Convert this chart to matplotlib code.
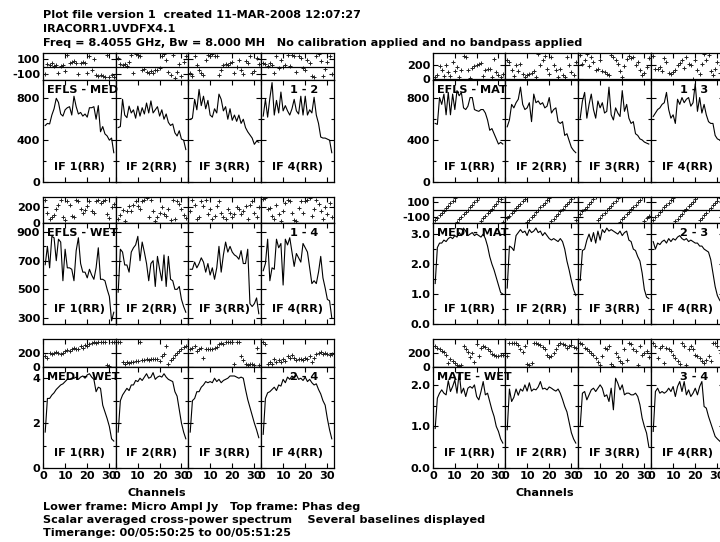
import numpy as np
import matplotlib.pyplot as plt
from matplotlib.ticker import FixedLocator, FormatStrFormatter

plt.rcParams['font.family'] = ['DejaVu Sans']
plt.rcParams['font.weight'] = 'bold'
plt.rcParams['axes.unicode_minus'] = False

# channel numbers (32 per IF)
channels = np.arange(1, 33)
if_labels = ['IF 1(RR)', 'IF 2(RR)', 'IF 3(RR)', 'IF 4(RR)']

# amplitude spectra, one list per IF
amp_efls_med = [
    [540, 560, 555, 640, 700, 800, 760, 650, 630, 690, 710, 720, 640, 820, 720, 650, 665, 630, 650, 620, 710, 710, 720, 600, 730, 480, 530, 460, 440, 400, 420, 280],
    [520, 530, 790, 640, 615, 725, 660, 690, 610, 725, 630, 710, 650, 755, 660, 775, 660, 690, 720, 630, 690, 600, 650, 570, 540, 555, 470, 440, 490, 410, 400, 310],
    [600, 610, 790, 690, 885, 730, 820, 700, 780, 640, 620, 700, 660, 840, 790, 680, 720, 600, 700, 590, 640, 580, 640, 560, 600, 520, 480, 450, 420, 360, 390, 380],
    [630, 790, 620, 800, 950, 640, 780, 660, 860, 680, 730, 680, 640, 700, 790, 680, 650, 820, 640, 820, 640, 690, 660, 810, 640, 560, 430, 420, 420, 410, 400, 280],
]
amp_efls_mat = [
    [557, 548, 803, 738, 836, 639, 852, 639, 836, 689, 869, 820, 852, 705, 689, 721, 803, 803, 689, 679, 672, 689, 689, 656, 590, 492, 508, 459, 410, 361, 377, 361],
    [525, 590, 738, 705, 754, 787, 902, 738, 689, 705, 754, 574, 836, 754, 771, 738, 754, 705, 721, 803, 656, 689, 705, 574, 557, 574, 443, 459, 393, 330, 300, 279],
    [607, 770, 852, 607, 738, 836, 689, 607, 770, 705, 754, 656, 672, 902, 639, 590, 705, 656, 623, 869, 672, 738, 607, 557, 574, 459, 443, 410, 400, 380, 370, 361],
    [623, 656, 689, 705, 738, 754, 852, 689, 607, 639, 557, 787, 738, 803, 754, 787, 803, 721, 754, 934, 672, 803, 656, 738, 639, 574, 557, 557, 443, 410, 400, 390],
]
amp_efls_wet = [
    [672, 800, 650, 870, 860, 700, 850, 830, 560, 780, 650, 650, 640, 560, 770, 860, 680, 620, 620, 580, 640, 600, 570, 650, 790, 570, 570, 560, 500, 450, 280, 340],
    [480, 780, 760, 670, 670, 620, 760, 790, 810, 870, 700, 830, 760, 680, 560, 680, 700, 520, 730, 640, 560, 740, 520, 730, 570, 560, 500, 500, 520, 430, 380, 340],
    [640, 640, 690, 650, 680, 720, 690, 620, 680, 600, 650, 570, 650, 800, 620, 740, 830, 760, 800, 760, 740, 730, 710, 770, 680, 680, 780, 400, 380, 400, 440, 330],
    [630, 680, 850, 560, 650, 640, 850, 790, 820, 530, 850, 810, 860, 760, 660, 750, 720, 690, 820, 790, 760, 650, 540, 560, 540, 620, 730, 580, 510, 430, 420, 300],
]
amp_medi_mat = [
    [1.35, 2.55, 2.7, 2.7, 2.8, 2.75, 2.85, 2.9, 2.85, 2.95, 2.9, 3.05, 2.95, 3.2, 3.1, 2.95, 3.0, 3.05, 2.95, 3.0, 2.95, 2.9, 3.0, 2.85, 2.6, 2.25, 2.0, 1.8, 1.55, 1.3, 1.05, 1.0],
    [1.2, 2.6, 2.55, 2.45, 2.95, 3.05, 3.15, 3.05, 3.1, 2.95, 3.15, 3.05, 3.1, 3.2, 3.05, 3.1, 2.95, 3.05, 2.95, 2.85, 2.8, 2.85, 2.8, 2.75, 2.85, 2.75, 2.5, 2.1, 1.8, 1.45, 1.15, 0.95],
    [1.45, 2.45, 2.5, 2.8, 3.0, 2.75, 3.05, 2.7, 3.1, 2.8, 3.15, 3.05, 3.2, 3.1, 3.15, 3.1, 3.05, 3.0, 3.1, 2.95, 3.05, 3.1, 2.8, 2.75, 2.5, 2.45, 2.25, 2.1, 1.7, 1.15, 0.9, 0.85],
    [2.75, 2.5, 2.7, 2.65, 2.75, 2.8, 2.7, 2.85, 2.75, 2.85, 2.8, 2.9, 2.95, 2.85, 2.8, 2.85, 2.75, 2.8, 2.75, 2.7, 2.7, 2.6, 2.6, 2.5, 2.45, 2.4, 2.15, 1.7, 1.25, 0.95, 0.8, 0.7],
]
amp_medi_wet = [
    [1.6, 3.1, 3.1, 3.25, 3.35, 3.5, 3.6, 3.7, 3.75, 3.85, 3.95, 3.95, 4.0, 4.0, 4.05, 3.95, 4.05, 4.1, 4.0, 4.15, 4.2, 4.05, 3.95, 3.4, 3.6, 3.55, 2.8, 2.5, 2.2, 1.85, 1.3, 1.2],
    [1.6, 3.0, 3.25, 3.4, 3.55, 3.45, 3.7, 3.7, 3.9, 3.85, 4.0, 3.9, 4.05, 4.2, 4.0, 4.05, 4.25, 3.95, 4.05, 4.1, 4.05, 4.2, 4.05, 3.95, 3.9, 3.85, 3.4, 3.2, 2.6, 2.0, 1.6, 1.3],
    [1.6, 3.0, 3.1, 3.4, 3.4, 3.6, 3.7, 3.85, 3.8, 3.85, 3.8, 4.0, 3.85, 3.95, 3.8, 3.9, 3.95, 4.0, 4.1, 4.1, 4.1, 4.05, 4.0, 4.05, 4.0, 3.5, 3.05, 2.7, 2.35, 2.0, 1.7, 1.35],
    [1.5, 3.1, 3.35, 3.4, 3.5, 3.6, 3.45, 3.7, 3.65, 3.95, 3.8, 4.05, 3.95, 4.1, 4.0, 4.15, 3.95, 4.0, 3.9, 4.05, 3.85, 3.95, 3.8, 3.7, 3.75, 3.5, 3.3, 3.0, 2.8, 2.2, 1.7, 1.3],
]
amp_mate_wet = [
    [0.95, 1.68, 1.8, 1.88, 1.8, 1.76, 2.1, 1.84, 1.96, 2.12, 1.8, 2.3, 1.8, 1.92, 1.72, 1.92, 1.96, 1.92, 2.0, 1.72, 1.64, 1.84, 2.08, 1.76, 1.8, 1.6, 1.4, 1.24, 1.0, 0.88, 0.7, 0.6],
    [0.92, 1.9, 1.6, 1.7, 1.9, 1.75, 1.9, 1.85, 2.0, 1.85, 2.05, 1.85, 1.9, 1.88, 1.95, 2.08, 1.9, 1.92, 1.88, 1.95, 1.92, 1.88, 1.85, 1.9, 1.8, 1.65, 1.48, 1.35, 1.1, 0.85, 0.7, 0.6],
    [1.0, 1.8, 1.84, 1.64, 1.76, 1.88, 1.92, 1.84, 1.92, 2.0, 1.92, 1.72, 1.76, 1.6, 1.92, 1.4, 2.16, 2.04, 1.88, 2.0, 1.76, 1.8, 1.8, 1.76, 1.76, 1.8, 1.72, 1.52, 1.2, 1.0, 0.84, 0.52],
    [0.88, 1.84, 1.92, 1.8, 1.84, 1.8, 1.84, 1.92, 1.84, 1.96, 1.72, 1.96, 2.08, 1.84, 2.08, 1.76, 1.88, 1.72, 1.8, 1.92, 1.76, 1.96, 2.08, 1.48, 1.44, 1.24, 1.08, 0.92, 0.76, 0.7, 0.65, 0.6],
]

# phases in degrees, one list per IF
phs_efls_med = [
    [-105, 30, 24, 48, 10, 24, -95, 14, 24, -60, 167, 48, 57, 71, 48, -105, 48, 60, 48, -95, 143, -48, 105, -119, -133, -119, -133, -143, 167, -143, -119, -150],
    [120, 40, 24, 40, 10, 57, 167, -95, 178, 167, 143, -48, -38, -71, -95, -57, -95, -48, -48, -24, 143, 175, 95, -71, -119, 167, -160, -80, 30, -130, 60, 150],
    [-95, -133, 143, 24, -48, -95, -119, 95, 167, 143, 178, 150, 143, -119, -48, 24, 38, 24, 48, 57, -95, 0, 95, -48, -105, 71, 48, 143, -95, -60, 120, 30],
    [48, 38, 10, 48, 24, -95, 143, -24, 95, 0, 24, 167, 10, 167, 150, -71, 143, 120, -24, -48, 95, 48, -133, -143, 143, 178, 71, -133, -40, 60, 150, -110],
]
phs_efls_mat = [
    [30, 57, 186, 129, 43, 200, 105, 43, 248, 119, 176, 33, 129, 329, 319, 138, 24, 167, 186, 200, 214, 233, 43, 129, 152, 152, 33, 281, 105, 57, 33, 80],
    [271, 248, 129, 43, 200, 119, 224, 71, 33, 57, 81, 90, 119, 33, 358, 200, 271, 329, 152, 81, 319, 200, 129, 33, 152, 57, 33, 310, 200, 100, 60, 240],
    [343, 224, 271, 357, 186, 310, 248, 129, 152, 271, 119, 105, 81, 57, 343, 310, 271, 224, 119, 33, 186, 281, 329, 295, 319, 200, 248, 129, 57, 90, 180, 300],
    [329, 152, 152, 176, 119, 295, 248, 90, 71, 105, 138, 200, 233, 271, 167, 310, 224, 200, 10, 271, 129, 71, 224, 358, 271, 343, 119, 57, 150, 250, 90, 200],
]
phs_efls_wet = [
    [300, 133, 50, 71, 104, 175, 237, 300, 71, 37, 279, 237, 92, 71, 300, 279, 175, 133, 162, 217, 279, 154, 133, 279, 300, 258, 279, 300, 120, 60, 200, 250],
    [50, 104, 162, 21, 154, 217, 154, 237, 279, 217, 175, 279, 300, 321, 71, 300, 154, 29, 71, 133, 204, 117, 92, 175, 37, 300, 50, 287, 250, 180, 100, 60],
    [154, 300, 237, 50, 71, 279, 217, 300, 117, 175, 50, 92, 217, 279, 133, 71, 50, 175, 133, 71, 117, 204, 175, 117, 154, 217, 50, 237, 280, 130, 70, 200],
    [312, 325, 175, 196, 92, 50, 237, 117, 29, 154, 258, 300, 279, 133, 37, 29, 196, 287, 133, 279, 300, 321, 92, 175, 300, 246, 154, 50, 200, 110, 260, 80],
]
phs_medi_mat = [
    [-150, -116, -82, -48, -14, 20, 54, 88, 122, 156, -170, -136, -102, -68, -34, 0, 34, 68, 102, 136, 170, -156, -122, -88, -54, -20, 14, 48, 82, 116, 150, -176],
    [-120, -86, -52, -18, 16, 50, 84, 118, 152, -174, -140, -106, -72, -38, -4, 30, 64, 98, 132, 166, -160, -126, -92, -58, -24, 10, 44, 78, 112, 146, 178, -146],
    [-60, -26, 8, 42, 76, 110, 144, 178, -148, -114, -80, -46, -12, 22, 56, 90, 124, 158, -168, -134, -100, -66, -32, 2, 36, 70, 104, 138, 172, -154, -120, -86],
    [-140, -106, -72, -38, -4, 30, 64, 98, 132, 166, -160, -126, -92, -58, -24, 10, 44, 78, 112, 146, 178, -146, -112, -78, -44, -10, 24, 58, 92, 126, 160, -166],
]
phs_medi_wet = [
    [157, 133, 205, 181, 195, 214, 195, 181, 195, 229, 243, 229, 252, 276, 262, 252, 300, 276, 310, 300, 324, 338, 350, 345, 355, 358, 352, 356, 30, 15, 357, 350],
    [355, 350, 71, 38, 62, 52, 62, 71, 86, 86, 358, 100, 100, 110, 100, 110, 110, 119, 119, 86, 157, 181, 300, 38, 100, 133, 167, 205, 229, 252, 280, 300],
    [252, 276, 300, 229, 252, 276, 133, 252, 262, 252, 262, 276, 290, 324, 338, 324, 355, 350, 358, 350, 38, 355, 350, 157, 100, 38, 30, 38, 35, 30, 270, 30],
    [358, 324, 38, 62, 38, 110, 71, 100, 62, 119, 86, 157, 133, 167, 133, 100, 110, 119, 100, 133, 110, 157, 71, 133, 181, 195, 214, 181, 200, 190, 170, 180],
]
phs_mate_wet = [
    [308, 282, 256, 231, 215, 180, 62, 113, 92, 51, 26, 10, 26, 308, 256, 215, 144, 205, 77, 333, 154, 282, 308, 297, 256, 231, 195, 180, 154, 160, 170, 175],
    [154, 355, 358, 350, 345, 318, 256, 215, 308, 41, 26, 51, 355, 350, 333, 320, 297, 256, 180, 144, 154, 205, 256, 318, 349, 333, 318, 282, 300, 320, 290, 270],
    [355, 333, 282, 256, 231, 205, 180, 128, 77, 26, 154, 282, 256, 308, 41, 10, 205, 144, 92, 51, 256, 103, 355, 333, 256, 231, 26, 308, 180, 200, 240, 150],
    [358, 308, 128, 282, 308, 51, 282, 256, 231, 180, 128, 92, 41, 355, 308, 26, 256, 308, 256, 180, 154, 128, 92, 51, 103, 154, 92, 355, 350, 300, 250, 200],
]

W, H = 720, 542
fig = plt.figure(figsize=(W / 100, H / 100), dpi=100)
FS = 8.1


def add_ax(x0, y0, x1, y1):
    # pixel box (top-left origin) -> figure axes
    return fig.add_axes([x0 / W, 1 - y1 / H, (x1 - x0) / W, (y1 - y0) / H])


def ftext(x, y, s, **kw):
    fig.text(x / W, 1 - y / H, s, fontsize=FS, fontweight='bold', **kw)


left_x = [43, 116, 188, 261, 334]
right_x = [433, 505, 578, 651, 724]
rows = [(53, 80, 182), (197, 223, 324), (339, 367, 468)]

panels = [
    dict(xe=left_x, row=0, amp=amp_efls_med, phs=phs_efls_med, name='EFLS - MED', bl='1 - 2',
         aylim=(0, 975), aticks=[0, 400, 800], aminor=[200, 600], afmt='%d',
         pylim=(-190, 190), pticks=[-100, 100]),
    dict(xe=right_x, row=0, amp=amp_efls_mat, phs=phs_efls_mat, name='EFLS - MAT', bl='1 - 3',
         aylim=(0, 970), aticks=[0, 400, 800], aminor=[200, 600], afmt='%d',
         pylim=(-8, 372), pticks=[0, 200]),
    dict(xe=left_x, row=1, amp=amp_efls_wet, phs=phs_efls_wet, name='EFLS - WET', bl='1 - 4',
         aylim=(258, 963), aticks=[300, 500, 700, 900], aminor=[400, 600, 800], afmt='%d',
         pylim=(-3, 335), pticks=[0, 200]),
    dict(xe=right_x, row=1, amp=amp_medi_mat, phs=phs_medi_mat, name='MEDI - MAT', bl='2 - 3',
         aylim=(0, 3.37), aticks=[0.0, 1.0, 2.0, 3.0], aminor=[0.5, 1.5, 2.5], afmt='%.1f',
         pylim=(-188, 175), pticks=[-100, 100]),
    dict(xe=left_x, row=2, amp=amp_medi_wet, phs=phs_medi_wet, name='MEDI - WET', bl='2 - 4',
         aylim=(0, 4.5), aticks=[0, 2, 4], aminor=[1, 3], afmt='%d',
         pylim=(-3, 400), pticks=[0, 200]),
    dict(xe=right_x, row=2, amp=amp_mate_wet, phs=phs_mate_wet, name='MATE - WET', bl='3 - 4',
         aylim=(0, 2.43), aticks=[0.0, 1.0, 2.0], aminor=[0.5, 1.5], afmt='%.1f',
         pylim=(-3, 410), pticks=[0, 200]),
]

for p in panels:
    ytop, ymid, ybot = rows[p['row']]
    xe = p['xe']
    for k in range(4):
        axp = add_ax(xe[k], ytop, xe[k + 1], ymid)
        axa = add_ax(xe[k], ymid, xe[k + 1], ybot)
        axa.plot(channels, p['amp'][k], color='black', lw=0.8)
        axp.plot(channels, p['phs'][k], '+', color='#222222', ms=3.2, mew=0.7)
        axp.axhline(0, color='black', lw=0.9)
        for ax in (axp, axa):
            ax.set_xlim(0, 33)
            ax.xaxis.set_major_locator(FixedLocator([0, 10, 20, 30]))
            for s in ax.spines.values():
                s.set_linewidth(0.9)
            ax.tick_params(direction='in', top=True, right=True, length=3.5, width=0.8,
                           labelsize=FS, pad=2)
            ax.tick_params(which='minor', direction='in', right=True, length=2.5, width=0.8)
        axa.set_ylim(*p['aylim'])
        axa.yaxis.set_major_locator(FixedLocator(p['aticks']))
        axa.yaxis.set_minor_locator(FixedLocator(p['aminor']))
        axa.yaxis.set_major_formatter(FormatStrFormatter(p['afmt']))
        axp.set_ylim(*p['pylim'])
        axp.yaxis.set_major_locator(FixedLocator(p['pticks']))
        axp.tick_params(labelbottom=False, bottom=False)
        axa.tick_params(labelbottom=(p['row'] == 2))
        if k > 0:
            axa.tick_params(labelleft=False)
            axp.tick_params(labelleft=False)
        for lab in axa.get_xticklabels() + axa.get_yticklabels() + axp.get_yticklabels():
            lab.set_fontweight('bold')
        ftext((xe[k] + xe[k + 1]) / 2, ybot - 15, if_labels[k], ha='center', va='center')
    ftext(xe[0] + 4, ymid + 10, p['name'], ha='left', va='center')
    ftext(xe[4] - 16, ymid + 10, p['bl'], ha='right', va='center')

ftext(157, 493, 'Channels', ha='center', va='center')
ftext(545, 493, 'Channels', ha='center', va='center')

ftext(43, 15, 'Plot file version 1  created 11-MAR-2008 12:07:27', ha='left', va='center')
ftext(43, 29, 'IRACORR1.UVDFX4.1', ha='left', va='center')
ftext(43, 43, 'Freq = 8.4055 GHz, Bw = 8.000 MH   No calibration applied and no bandpass applied',
      ha='left', va='center')
ftext(43, 507, 'Lower frame: Micro Ampl Jy   Top frame: Phas deg', ha='left', va='center')
ftext(43, 520, 'Scalar averaged cross-power spectrum    Several baselines displayed', ha='left', va='center')
ftext(43, 533, 'Timerange: 00/05:50:25 to 00/05:51:25', ha='left', va='center')

fig.savefig('out.png', dpi=100)
